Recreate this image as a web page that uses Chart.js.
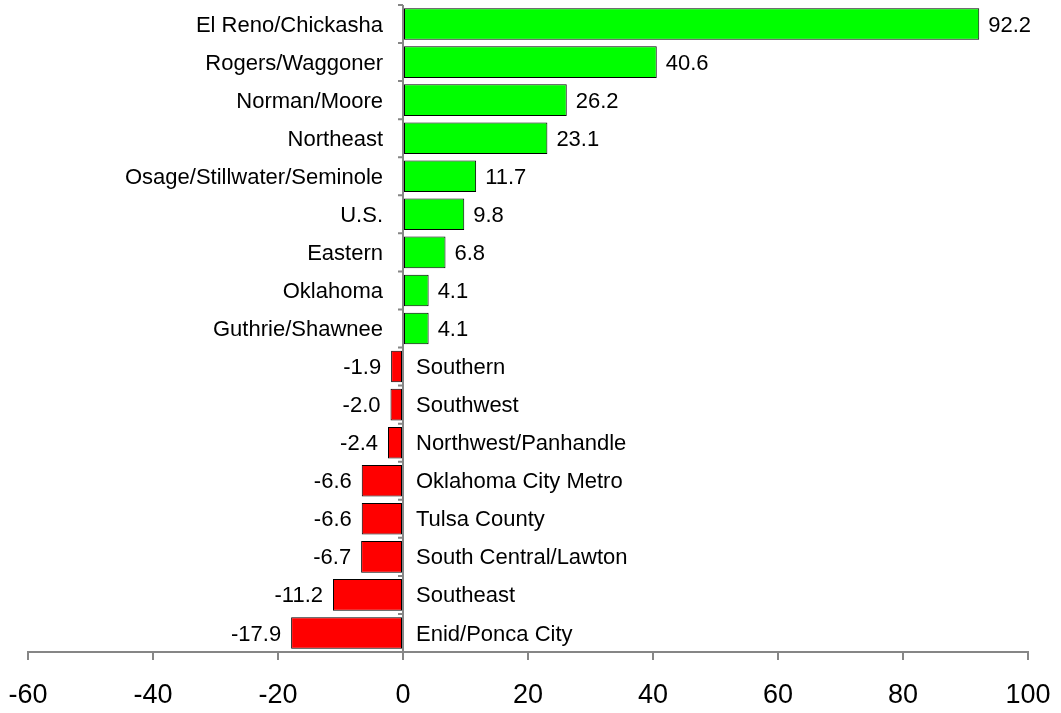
<!DOCTYPE html>
<html>
<head>
<meta charset="utf-8">
<script src="https://cdn.jsdelivr.net/npm/chart.js@4/dist/chart.umd.min.js"></script>
<style>
html,body{margin:0;padding:0;background:#fff;}
#wrap{width:1061px;height:713px;position:relative;}
</style>
</head>
<body>
<div id="wrap"><canvas id="c" width="1061" height="713"></canvas></div>
<script>
const categories = ["El Reno/Chickasha","Rogers/Waggoner","Norman/Moore","Northeast","Osage/Stillwater/Seminole","U.S.","Eastern","Oklahoma","Guthrie/Shawnee","Southern","Southwest","Northwest/Panhandle","Oklahoma City Metro","Tulsa County","South Central/Lawton","Southeast","Enid/Ponca City"];
const values = [92.2,40.6,26.2,23.1,11.7,9.8,6.8,4.1,4.1,-1.9,-2.0,-2.4,-6.6,-6.6,-6.7,-11.2,-17.9];
const xTicks = [-60,-40,-20,0,20,40,60,80,100];

const FONT = "'Liberation Sans', Arial, sans-serif";
const AXIS = '#868686';

const labelPlugin = {
  id: 'labelPlugin',
  afterDatasetsDraw(chart) {
    const ctx = chart.ctx;
    const xs = chart.scales.x, ys = chart.scales.y;
    const x0 = xs.getPixelForValue(0);
    ctx.save();
    const step = ys.getPixelForValue(1) - ys.getPixelForValue(0);
    const top = ys.getPixelForValue(0) - step / 2;
    const bottom = ys.getPixelForValue(categories.length - 1) + step / 2;
    ctx.strokeStyle = AXIS;
    ctx.lineWidth = 2;
    ctx.beginPath();
    ctx.moveTo(x0, top);
    ctx.lineTo(x0, bottom);
    for (let i = 0; i < categories.length; i++) {
      const yb = ys.getPixelForValue(i) - step / 2;
      ctx.moveTo(x0 - 5, yb);
      ctx.lineTo(x0, yb);
    }
    ctx.stroke();
    ctx.fillStyle = '#000';
    ctx.textBaseline = 'middle';
    ctx.font = '22px ' + FONT;
    categories.forEach((cat, i) => {
      const v = values[i];
      const yp = ys.getPixelForValue(i) + 1.5;
      const xv = xs.getPixelForValue(v);
      if (v >= 0) {
        ctx.textAlign = 'right';
        ctx.fillText(cat, x0 - 20, yp);
        ctx.textAlign = 'left';
        ctx.fillText(v.toFixed(1), xv + 9, yp);
      } else {
        ctx.textAlign = 'left';
        ctx.fillText(cat, x0 + 13, yp);
        ctx.textAlign = 'right';
        ctx.fillText(v.toFixed(1), xv - 10, yp);
      }
    });
    ctx.restore();
  }
};

new Chart(document.getElementById('c'), {
  type: 'bar',
  data: {
    labels: categories,
    datasets: [{
      data: values,
      backgroundColor: values.map(v => v >= 0 ? '#00FF00' : '#FF0000'),
      borderColor: '#000000',
      borderWidth: 1,
      borderSkipped: false,
      barPercentage: 0.83,
      categoryPercentage: 1.0
    }]
  },
  options: {
    indexAxis: 'y',
    responsive: false,
    animation: false,
    layout: { padding: { left: 28, right: 33, top: 5, bottom: 0 } },
    plugins: { legend: { display: false }, tooltip: { enabled: false } },
    scales: {
      x: {
        type: 'linear',
        min: -60, max: 100,
        afterBuildTicks: (s) => { s.ticks = xTicks.map(v => ({ value: v })); },
        afterFit: (s) => { s.height = 61; s.paddingLeft = 0; s.paddingRight = 0; },
        grid: { display: true, drawOnChartArea: false, drawTicks: true, tickLength: 8, color: AXIS, lineWidth: 2 },
        border: { display: true, color: AXIS, width: 2 },
        ticks: { color: '#000', font: { family: FONT, size: 27 }, padding: 19, maxRotation: 0, autoSkip: false }
      },
      y: {
        display: false,
        grid: { display: false }
      }
    }
  },
  plugins: [labelPlugin]
});
</script>
</body>
</html>
